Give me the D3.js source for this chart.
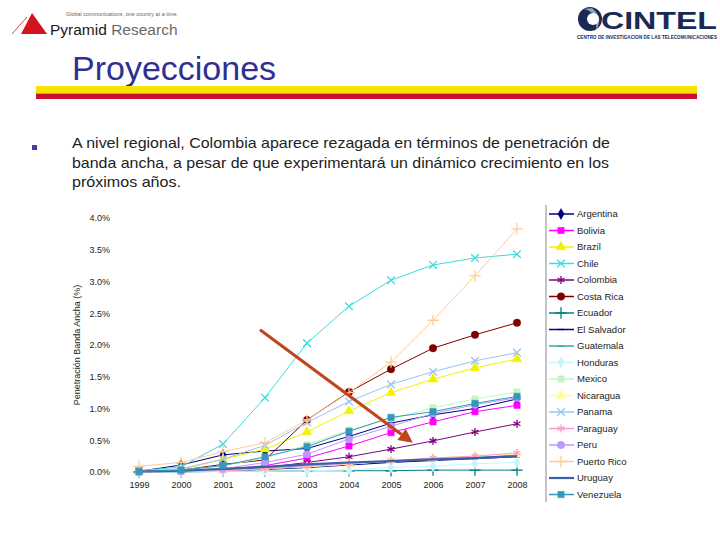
<!DOCTYPE html>
<html><head><meta charset="utf-8">
<script src="https://cdn.jsdelivr.net/npm/d3@7"></script>
<style>body{margin:0;background:#fff}svg{display:block}</style>
</head><body>
<svg id="c" width="720" height="540"></svg>
<script>
const years = ["1999","2000","2001","2002","2003","2004","2005","2006","2007","2008"];
const yTicks = [0,0.5,1,1.5,2,2.5,3,3.5,4];
const countries = ["Argentina","Bolivia","Brazil","Chile","Colombia","Costa Rica","Ecuador","El Salvador","Guatemala","Honduras","Mexico","Nicaragua","Panama","Paraguay","Peru","Puerto Rico","Uruguay","Venezuela"];
const argentina  = [0.01,0.11,0.27,0.33,0.37,0.56,0.77,0.90,1.00,1.15];
const bolivia    = [0.00,0.01,0.04,0.10,0.22,0.41,0.62,0.79,0.95,1.05];
const brazil     = [0.01,0.04,0.20,0.36,0.63,0.96,1.25,1.46,1.64,1.78];
const chile      = [0.02,0.08,0.44,1.17,2.03,2.61,3.02,3.26,3.37,3.43];
const colombia   = [0.01,0.02,0.04,0.07,0.15,0.24,0.36,0.49,0.63,0.76];
const costaRica  = [0.01,0.03,0.12,0.19,0.82,1.26,1.62,1.95,2.16,2.35];
const ecuador    = [0.00,0.00,0.01,0.01,0.02,0.02,0.02,0.03,0.03,0.03];
const elSalvador = [0.00,0.01,0.02,0.04,0.07,0.11,0.15,0.18,0.21,0.24];
const guatemala  = [0.00,0.01,0.03,0.06,0.10,0.14,0.17,0.20,0.23,0.26];
const honduras   = [0.00,0.00,0.01,0.01,0.02,0.03,0.07,0.09,0.13,0.15];
const mexico     = [0.01,0.03,0.10,0.22,0.43,0.66,0.84,1.01,1.15,1.26];
const nicaragua  = [0.00,0.01,0.02,0.05,0.08,0.12,0.18,0.22,0.25,0.28];
const panama     = [0.02,0.05,0.20,0.42,0.78,1.11,1.38,1.58,1.75,1.88];
const paraguay   = [0.00,0.01,0.02,0.05,0.09,0.13,0.18,0.22,0.25,0.30];
const peru       = [0.00,0.01,0.05,0.15,0.28,0.52,0.72,0.92,1.06,1.17];
const puertoRico = [0.09,0.15,0.32,0.46,0.82,1.25,1.73,2.39,3.09,3.83];
const uruguay    = [0.01,0.02,0.05,0.08,0.12,0.15,0.17,0.20,0.22,0.25];
const venezuela  = [0.01,0.03,0.10,0.24,0.40,0.64,0.86,0.95,1.08,1.19];
const seriesValues = [argentina,bolivia,brazil,chile,colombia,costaRica,ecuador,elSalvador,guatemala,honduras,mexico,nicaragua,panama,paraguay,peru,puertoRico,uruguay,venezuela];
// annotation arrow in data units (year index, %)
const arrowFrom = [2.88, 2.24];
const arrowTo = [6.52, 0.46];

const style = [
 {c:"#000080", m:"diamond"},
 {c:"#FF00FF", m:"square"},
 {c:"#F2F200", m:"triangle"},
 {c:"#3CDCDC", m:"times"},
 {c:"#800080", m:"asterisk"},
 {c:"#800000", m:"circle"},
 {c:"#008080", m:"plus"},
 {c:"#000080", m:"dash"},
 {c:"#33AAAA", m:"dash"},
 {c:"#C8F4FF", m:"diamond"},
 {c:"#C4F4C4", m:"square"},
 {c:"#FFFF99", m:"triangle"},
 {c:"#99C4F0", m:"times"},
 {c:"#FF99CC", m:"asterisk"},
 {c:"#BB99FF", m:"circle"},
 {c:"#FFCC99", m:"plus"},
 {c:"#3E5FA8", m:"none", w:2.2},
 {c:"#3399BB", m:"square"}
];

const svg = d3.select("#c");
svg.append("rect").attr("width",720).attr("height",540).attr("fill","#fff");
const font = "Arial, Liberation Sans, sans-serif";

// ---- header: Pyramid Research logo
const hdr = svg.append("g");
hdr.append("path").attr("d","M21,34 L32,13 L47,34 Z").attr("fill","#D2141E");
hdr.append("line").attr("x1",12).attr("y1",34).attr("x2",27).attr("y2",17).attr("stroke","#D2141E").attr("stroke-width",0.8);
hdr.append("text").attr("x",66).attr("y",16).attr("font-family",font).attr("font-size",5.4).attr("fill","#666").attr("textLength",112).text("Global communications, one country at a time.");
const pr = hdr.append("text").attr("x",50).attr("y",35).attr("font-family",font).attr("font-size",15.5);
pr.append("tspan").attr("fill","#1a1a1a").text("Pyramid");
pr.append("tspan").attr("fill","#6a6a6a").text(" Research");

// ---- CINTEL logo
const cg = svg.append("g");
cg.append("circle").attr("cx",590).attr("cy",19).attr("r",12).attr("fill","#1B2A55");
cg.append("path").attr("d","M584,9 Q598,12 596,30 Q604,18 592,8 Z").attr("fill","#8FA0C0");
cg.append("circle").attr("cx",593).attr("cy",19).attr("r",6).attr("fill","#fff");
cg.append("text").attr("x",601).attr("y",28.5).attr("font-family",font).attr("font-weight","bold").attr("font-size",24).attr("fill","#1B2A55").attr("textLength",116).attr("lengthAdjust","spacingAndGlyphs").text("CINTEL");
cg.append("text").attr("x",577).attr("y",39).attr("font-family",font).attr("font-weight","bold").attr("font-size",4.6).attr("fill","#1B2A55").attr("textLength",140).text("CENTRO DE INVESTIGACION DE LAS TELECOMUNICACIONES");

// ---- title + bars
svg.append("text").attr("x",72).attr("y",80).attr("font-family",font).attr("font-size",34).attr("fill","#2E3192").text("Proyecciones");
svg.append("rect").attr("x",36).attr("y",86).attr("width",661).attr("height",7).attr("fill","#F5E400");
svg.append("rect").attr("x",36).attr("y",93.5).attr("width",661).attr("height",5.5).attr("fill","#C8102E");

// ---- bullet text
svg.append("rect").attr("x",32).attr("y",145).attr("width",5).attr("height",5).attr("fill","#3F3F9F");
const lines = ["A nivel regional, Colombia aparece rezagada en términos de penetración de","banda ancha, a pesar de que experimentará un dinámico crecimiento en los","próximos años."];
const lineLen = [538, 537, 109];
svg.selectAll("text.bl").data(lines).enter().append("text").attr("class","bl")
 .attr("x",72).attr("y",(d,i)=>148+i*19.5).attr("font-family",font).attr("font-size",14.5).attr("fill","#222")
 .attr("textLength",(d,i)=>lineLen[i]).attr("lengthAdjust","spacingAndGlyphs").text(d=>d);

// ---- chart
const x = d3.scalePoint().domain(years).range([139,517]);
const xi = d3.scaleLinear().domain([0,9]).range([139,517]);
const y = d3.scaleLinear().domain([0,4]).range([472,218]);

const yAxis = svg.append("g").attr("transform","translate(110,0)")
 .call(d3.axisLeft(y).tickValues(yTicks).tickSize(0).tickPadding(0).tickFormat(d=>d.toFixed(1)+"%"));
yAxis.select(".domain").remove();
yAxis.selectAll("text").attr("font-family",font).attr("font-size",9).attr("fill","#222");

const xAxis = svg.append("g").attr("transform","translate(0,482)")
 .call(d3.axisBottom(x).tickSize(0).tickPadding(0));
xAxis.select(".domain").remove();
xAxis.selectAll("text").attr("font-family",font).attr("font-size",9).attr("fill","#222");

svg.append("text").attr("transform",`translate(80,${y(2)}) rotate(-90)`).attr("text-anchor","middle")
 .attr("font-family",font).attr("font-size",9).attr("fill","#222").text("Penetración Banda Ancha (%)");

function symPath(m){
  const map = {diamond:[d3.symbolDiamond,34], square:[d3.symbolSquare,40], triangle:[d3.symbolTriangle,40], circle:[d3.symbolCircle,44], times:[d3.symbolTimes,40], asterisk:[d3.symbolAsterisk,44], plus:[d3.symbolPlus,44]};
  if(m==="dash") return "M-3,0H3";
  const s = map[m]; return d3.symbol(s[0], s[1])();
}
const stroked = m => ["times","asterisk","plus","dash"].includes(m);

const line = d3.line().x((d,i)=>x(years[i])).y(d=>y(d));
countries.forEach((name,k)=>{
  const st = style[k], vals = seriesValues[k];
  const g = svg.append("g");
  g.append("path").attr("d",line(vals)).attr("fill","none").attr("stroke",st.c).attr("stroke-width",st.w||1);
  if(st.m!=="none"){
    g.selectAll("path.m").data(vals).enter().append("path").attr("class","m")
      .attr("transform",(d,i)=>`translate(${x(years[i])},${y(d)})`)
      .attr("d",symPath(st.m))
      .attr("fill",stroked(st.m)?"none":st.c).attr("stroke",st.c).attr("stroke-width",stroked(st.m)?1.3:0.5);
  }
});

// annotation arrow
const ax1 = xi(arrowFrom[0]), ay1 = y(arrowFrom[1]), ax2 = xi(arrowTo[0]), ay2 = y(arrowTo[1]);
const ang = Math.atan2(ay2-ay1, ax2-ax1);
const hl = 14, hw = 7;
const bx = ax2 - hl*Math.cos(ang), by = ay2 - hl*Math.sin(ang);
svg.append("line").attr("x1",ax1).attr("y1",ay1).attr("x2",bx).attr("y2",by).attr("stroke","#C0451C").attr("stroke-width",3);
svg.append("path").attr("d",`M${ax2},${ay2} L${bx+hw*Math.sin(ang)},${by-hw*Math.cos(ang)} L${bx-hw*Math.sin(ang)},${by+hw*Math.cos(ang)} Z`).attr("fill","#C0451C");

// legend
svg.append("line").attr("x1",546).attr("y1",205).attr("x2",546).attr("y2",502).attr("stroke","#888").attr("stroke-width",1);
const lg = svg.append("g");
countries.forEach((name,k)=>{
  const st = style[k];
  const yy = 214 + k*16.5;
  lg.append("line").attr("x1",549).attr("x2",574).attr("y1",yy).attr("y2",yy).attr("stroke",st.c).attr("stroke-width",st.w||1.5);
  if(st.m!=="none"){
    lg.append("path").attr("transform",`translate(561,${yy})`).attr("d",symPath(st.m))
      .attr("fill",stroked(st.m)?"none":st.c).attr("stroke",st.c).attr("stroke-width",stroked(st.m)?1.3:0.5);
  }
  lg.append("text").attr("x",577).attr("y",yy).attr("dy","0.35em").attr("font-family",font).attr("font-size",9.5).attr("fill","#222").text(name);
});
</script>
</body></html>
